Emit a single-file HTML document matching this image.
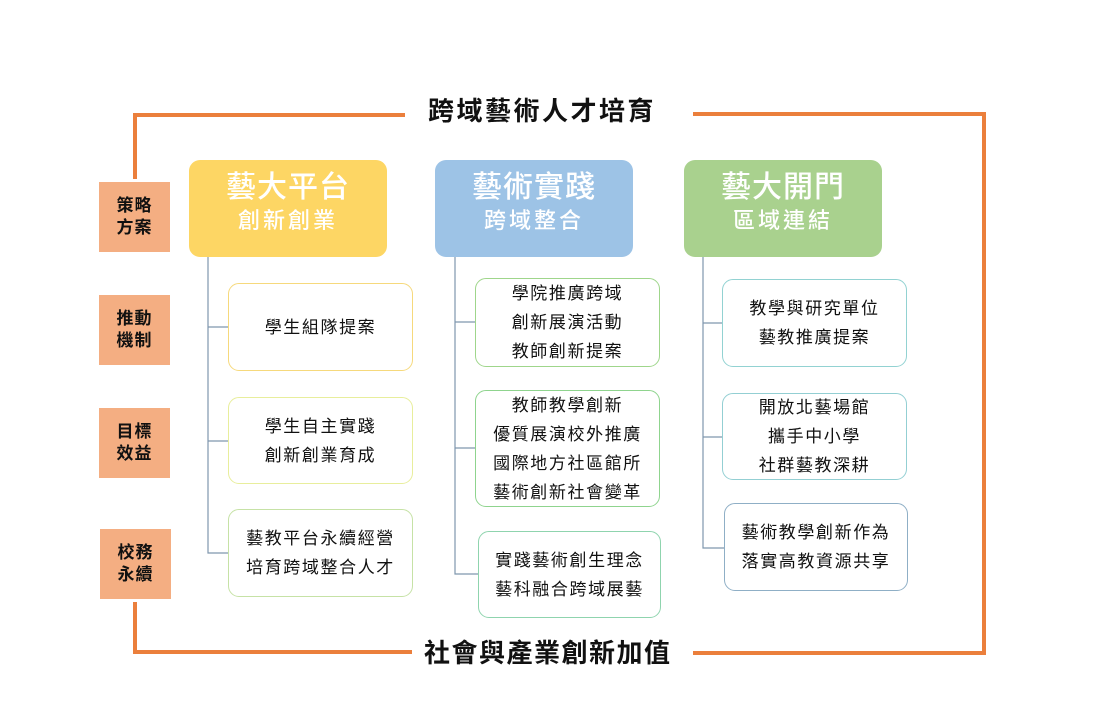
<!DOCTYPE html>
<html>
<head>
<meta charset="utf-8">
<style>
  html,body{margin:0;padding:0;background:#fff;}
  body{width:1096px;height:720px;position:relative;overflow:hidden;
       font-family:"Liberation Sans","Noto Sans CJK TC",sans-serif;}
  svg{position:absolute;left:0;top:0;}
  .lbl{position:absolute;width:71px;height:70px;background:#F4AE82;
       display:flex;flex-direction:column;align-items:center;justify-content:center;
       font-size:17px;font-weight:bold;color:#111;line-height:22px;letter-spacing:1px;}
  .hdr{position:absolute;width:198px;height:97px;border-radius:11px;color:#fff;
       text-align:center;}
  .hdr .t1{position:absolute;left:0;right:0;top:10px;font-size:30px;font-weight:500;letter-spacing:1px;line-height:36px;}
  .hdr .t2{position:absolute;left:0;right:0;top:47px;font-size:22px;font-weight:500;letter-spacing:3px;line-height:28px;}
  .box{position:absolute;width:183px;height:86px;border:1.3px solid #ccc;border-radius:11px;
       background:#fff;box-sizing:border-box;display:flex;flex-direction:column;
       align-items:center;justify-content:center;font-size:17px;color:#111;
       line-height:29px;letter-spacing:1.6px;}
  .title{position:absolute;font-size:26px;font-weight:bold;color:#111;letter-spacing:2.5px;line-height:32px;white-space:nowrap;}
</style>
</head>
<body>
<svg width="1096" height="720" viewBox="0 0 1096 720">
  <g stroke="#EB7F3C" stroke-width="4" fill="none" stroke-linecap="square">
    <polyline points="135,177 135,115 403,115"/>
    <polyline points="695,114 984,114 984,653 695,653"/>
    <polyline points="135,604 135,652 410,652"/>
  </g>
  <g stroke="#7F97AE" stroke-width="1.2" fill="none">
    <polyline points="208,257 208,553 228,553"/>
    <line x1="208" y1="327" x2="228" y2="327"/>
    <line x1="208" y1="441" x2="228" y2="441"/>
    <polyline points="455,257 455,574 478,574"/>
    <line x1="455" y1="322" x2="475" y2="322"/>
    <line x1="455" y1="448" x2="475" y2="448"/>
    <polyline points="703,257 703,548 724,548"/>
    <line x1="703" y1="323" x2="722" y2="323"/>
    <line x1="703" y1="437" x2="722" y2="437"/>
  </g>
</svg>

<div class="title" style="left:428px;top:95px;">跨域藝術人才培育</div>
<div class="title" style="left:424px;top:637px;letter-spacing:1.5px;">社會與產業創新加值</div>

<div class="lbl" style="left:99px;top:182px;"><div>策略</div><div>方案</div></div>
<div class="lbl" style="left:99px;top:295px;"><div>推動</div><div>機制</div></div>
<div class="lbl" style="left:99px;top:408px;"><div>目標</div><div>效益</div></div>
<div class="lbl" style="left:100px;top:529px;"><div>校務</div><div>永續</div></div>

<div class="hdr" style="left:189px;top:160px;background:#FDD664;"><div class="t1">藝大平台</div><div class="t2">創新創業</div></div>
<div class="hdr" style="left:435px;top:160px;background:#9DC3E6;"><div class="t1">藝術實踐</div><div class="t2">跨域整合</div></div>
<div class="hdr" style="left:684px;top:160px;background:#A9D18E;"><div class="t1">藝大開門</div><div class="t2">區域連結</div></div>

<div class="box" style="left:228px;top:283px;width:185px;height:88px;border-color:#F6D97C;"><div>學生組隊提案</div></div>
<div class="box" style="left:228px;top:397px;width:185px;height:87px;border-color:#E8EE9C;"><div>學生自主實踐</div><div>創新創業育成</div></div>
<div class="box" style="left:228px;top:509px;width:185px;height:88px;border-color:#C6E2A6;"><div>藝教平台永續經營</div><div>培育跨域整合人才</div></div>

<div class="box" style="left:475px;top:278px;width:185px;height:89px;border-color:#9FD68B;"><div>學院推廣跨域</div><div>創新展演活動</div><div>教師創新提案</div></div>
<div class="box" style="left:475px;top:390px;width:185px;height:117px;border-color:#8FD48E;"><div>教師教學創新</div><div>優質展演校外推廣</div><div>國際地方社區館所</div><div>藝術創新社會變革</div></div>
<div class="box" style="left:478px;top:531px;width:183px;height:87px;border-color:#8FD4AE;"><div>實踐藝術創生理念</div><div>藝科融合跨域展藝</div></div>

<div class="box" style="left:722px;top:279px;width:185px;height:88px;border-color:#92D2D2;"><div>教學與研究單位</div><div>藝教推廣提案</div></div>
<div class="box" style="left:722px;top:393px;width:185px;height:87px;border-color:#93CFD3;"><div>開放北藝場館</div><div>攜手中小學</div><div>社群藝教深耕</div></div>
<div class="box" style="left:724px;top:503px;width:184px;height:88px;border-color:#8FAFC6;"><div>藝術教學創新作為</div><div>落實高教資源共享</div></div>
</body>
</html>
